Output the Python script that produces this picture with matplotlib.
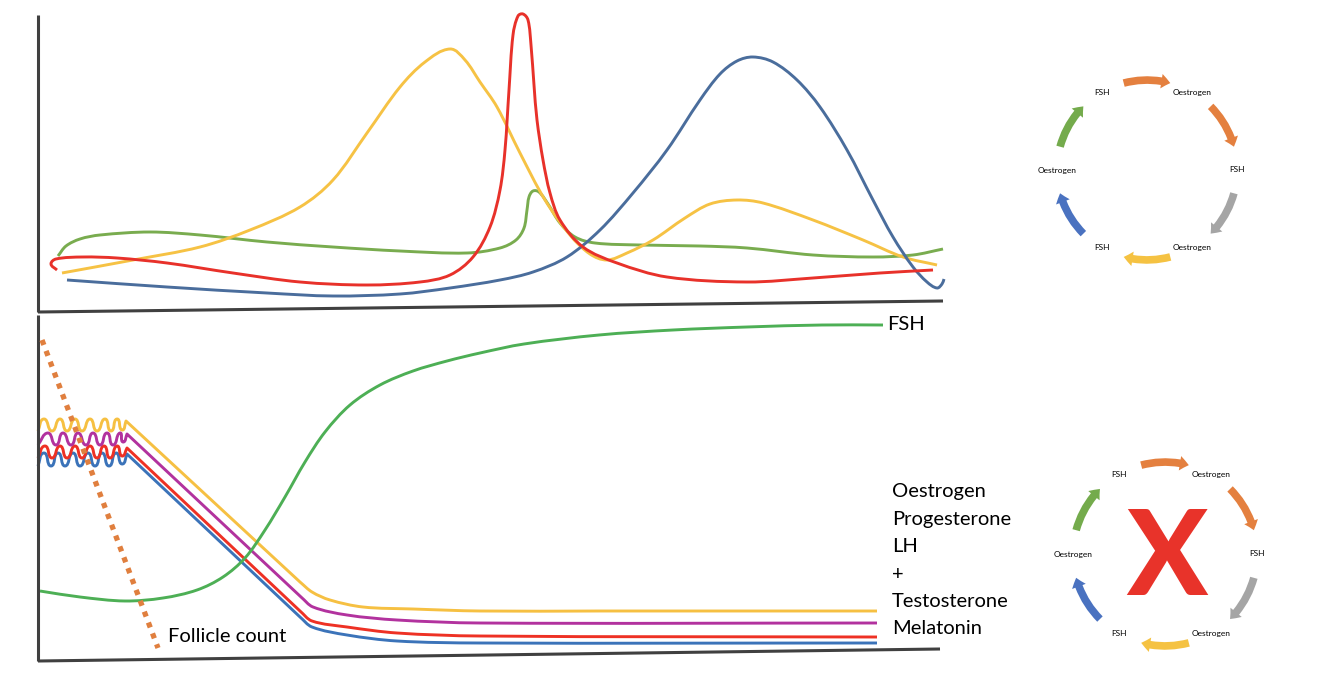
import numpy as np
import matplotlib
matplotlib.use("Agg")
import matplotlib.pyplot as plt
from matplotlib.path import Path
from matplotlib.patches import PathPatch, FancyArrowPatch

plt.rcParams['font.family'] = ['Lato', 'DejaVu Sans']

# ---- data (pixel coords, y down) ----
# top panel
top_yellow = [(62, 273), (133, 260), (200, 247), (250, 230), (300, 207), (333, 180), (367, 133),
              (400, 87), (425, 62), (450, 49), (465, 60), (480, 82), (497, 107), (520, 153),
              (545, 200), (570, 235), (590, 254), (607, 260), (627, 253), (653, 240), (685, 218),
              (710, 204), (737, 200), (763, 203), (813, 220), (863, 240), (903, 257), (937, 265)]
top_red = [(57, 270), (51, 264), (56, 259), (83, 257), (117, 258), (167, 263), (233, 273),
           (300, 282), (367, 285), (420, 282), (450, 275), (473, 257), (490, 227), (500, 190),
           (505, 150), (509, 90), (513, 35), (518, 16), (523, 14), (528, 20), (531, 45),
           (534, 85), (537, 120), (543, 160), (550, 193), (560, 220), (583, 247), (617, 263),
           (667, 277), (747, 282), (813, 278), (880, 273), (933, 270)]
top_green = [(58, 256), (66, 246), (80, 239), (100, 235), (150, 232), (200, 235), (267, 242),
             (333, 247), (400, 251), (467, 253), (500, 248), (516, 240), (524, 228), (527, 210),
             (529, 197), (533, 191), (539, 192), (548, 204), (560, 223), (575, 237), (595, 243),
             (640, 245), (700, 246), (747, 248), (813, 255), (873, 257), (913, 255), (943, 249)]
top_blue = [(67, 280), (167, 287), (267, 293), (333, 296), (400, 294), (450, 288), (500, 280),
            (533, 272), (567, 257), (600, 230), (633, 193), (667, 150), (700, 100), (720, 74),
            (737, 61), (753, 57), (773, 62), (797, 80), (820, 107), (847, 150), (873, 200),
            (893, 237), (913, 267), (927, 282), (937, 288), (942, 284), (944, 279)]

# bottom panel
fsh_curve = [(40, 591), (80, 597), (125, 601), (163, 598), (197, 590), (223, 577), (245, 558),
             (265, 530), (285, 497), (305, 462), (325, 432), (350, 405), (380, 385), (413, 371),
             (447, 361), (480, 353), (524, 344), (599, 335), (673, 330), (747, 327), (822, 325),
             (883, 325)]
oes_curve = [(38, 431), (44, 419), (52, 431), (60, 419), (67, 431), (75, 419), (82, 431),
             (90, 419), (97, 431), (105, 419), (111, 431), (117, 419), (122, 430), (126, 421),
             (300, 582), (312, 592), (330, 600), (363, 607), (413, 609), (480, 611), (600, 611),
             (750, 611), (877, 611)]
pro_curve = [(38, 445), (48, 433), (56, 445), (63, 433), (71, 445), (78, 433), (86, 445),
             (93, 433), (100, 445), (107, 433), (113, 445), (120, 433), (123, 442), (127, 434),
             (301, 597), (313, 607), (347, 615), (397, 620), (480, 623), (877, 623)]
lh_curve = [(38, 458), (45, 446), (52, 458), (60, 446), (67, 458), (75, 446), (82, 458),
            (90, 446), (97, 458), (104, 446), (110, 458), (117, 446), (122, 456), (127, 448),
            (300, 611), (312, 621), (347, 627), (397, 633), (480, 636), (877, 637)]
mel_curve = [(38, 466), (44, 453), (51, 466), (58, 453), (65, 466), (73, 453), (80, 466),
             (88, 453), (95, 466), (102, 453), (109, 466), (116, 453), (122, 464), (127, 454),
             (300, 617), (312, 627), (347, 635), (397, 641), (480, 643), (877, 643)]
# indices where the line has a sharp kink (start of the straight fall)
kinks = [13, 14]
follicle = [(42, 340), (158, 648)]

right_labels = ["Oestrogen", "Progesterone", "LH", "+", "Testosterone", "Melatonin"]
cycle_labels = ["Oestrogen", "FSH", "Oestrogen", "FSH", "Oestrogen", "FSH"]
label_angles = [60, 0, -60, -120, 180, 120]
arrow_angles = [90, 30, -30, -90, -150, 150]
arrow_colors = ["#E4803F", "#E4803F", "#A5A5A5", "#F5C242", "#4A72C0", "#74AB4C"]


def smooth_path(pts, corners=()):
    pts = np.asarray(pts, float)
    n = len(pts)
    verts = [pts[0]]
    codes = [Path.MOVETO]
    for i in range(n - 1):
        p0, p1 = pts[i], pts[i + 1]
        seg = np.linalg.norm(p1 - p0)
        if i == 0 or i in corners:
            d0 = p1 - p0
        else:
            d0 = p1 - pts[i - 1]
        if i + 1 == n - 1 or (i + 1) in corners:
            d1 = p1 - p0
        else:
            d1 = pts[i + 2] - p0
        d0 = d0 / np.linalg.norm(d0) * seg / 3
        d1 = d1 / np.linalg.norm(d1) * seg / 3
        verts += [p0 + d0, p1 - d1, p1]
        codes += [Path.CURVE4] * 3
    return Path(verts, codes)


def draw_curve(ax, pts, color, lw, corners=()):
    ax.add_patch(PathPatch(smooth_path(pts, corners), fill=False, edgecolor=color,
                           lw=lw, capstyle='butt', joinstyle='round'))


def draw_cycle(ax, cx, cy, r, fs):
    for lab, a in zip(cycle_labels, label_angles):
        t = np.radians(a)
        ax.text(cx + r * np.cos(t), cy - r * np.sin(t), lab, fontsize=fs,
                ha='center', va='center', color='black')
    span = 15
    for a, col in zip(arrow_angles, arrow_colors):
        t0, t1 = np.radians(a + span), np.radians(a - span)
        p0 = (cx + r * np.cos(t0), cy - r * np.sin(t0))
        p1 = (cx + r * np.cos(t1), cy - r * np.sin(t1))
        arr = FancyArrowPatch(p0, p1, connectionstyle='arc3,rad=-0.13',
                              arrowstyle='simple,head_width=10.5,head_length=6.5,tail_width=5.5',
                              mutation_scale=1, color=col, lw=0, shrinkA=0, shrinkB=0)
        ax.add_patch(arr)


fig = plt.figure(figsize=(13.24, 6.96), dpi=100)
ax = fig.add_axes([0, 0, 1, 1])
ax.set_xlim(0, 1324)
ax.set_ylim(696, 0)
ax.axis('off')

axis_col = '#404040'
# top panel axes
ax.plot([38, 38], [15, 312], color=axis_col, lw=2.2, solid_capstyle='butt')
ax.plot([38, 943], [312, 301], color=axis_col, lw=2.2, solid_capstyle='butt')
# bottom panel axes
ax.plot([38, 38], [315, 661], color=axis_col, lw=2.2, solid_capstyle='butt')
ax.plot([38, 940], [661, 649], color=axis_col, lw=2.2, solid_capstyle='butt')

draw_curve(ax, top_green, '#79AC4F', 2.1)
draw_curve(ax, top_yellow, '#F6C244', 2.1)
draw_curve(ax, top_blue, '#4A6D9C', 2.1)
draw_curve(ax, top_red, '#E8312A', 2.1)

draw_curve(ax, mel_curve, '#3B73B9', 2.1, kinks)
draw_curve(ax, lh_curve, '#EE3124', 2.1, kinks)
draw_curve(ax, pro_curve, '#B2329E', 2.1, kinks)
draw_curve(ax, oes_curve, '#F6C042', 2.1, kinks)
draw_curve(ax, fsh_curve, '#4DAF55', 2.1)

fx, fy = zip(*follicle)
ax.plot(fx, fy, color='#E07F3E', lw=3.8, linestyle=(0, (1, 1.2)), dash_capstyle='butt')

ax.text(168, 637, "Follicle count", fontsize=14.5, ha='left', va='center')
ax.text(887, 325, "FSH", fontsize=14.5, ha='left', va='center')
for k, lab in enumerate(right_labels):
    ax.text(892, 492 + k * 27.4, lab, fontsize=14.5, ha='left', va='center')

draw_cycle(ax, 1147, 170, 90, 6)
draw_cycle(ax, 1165, 554, 92, 6)
ax.text(1167, 561, "X", fontsize=86, fontweight='black', color='#E8332A',
        ha='center', va='center')

fig.savefig("out.png", dpi=100)
